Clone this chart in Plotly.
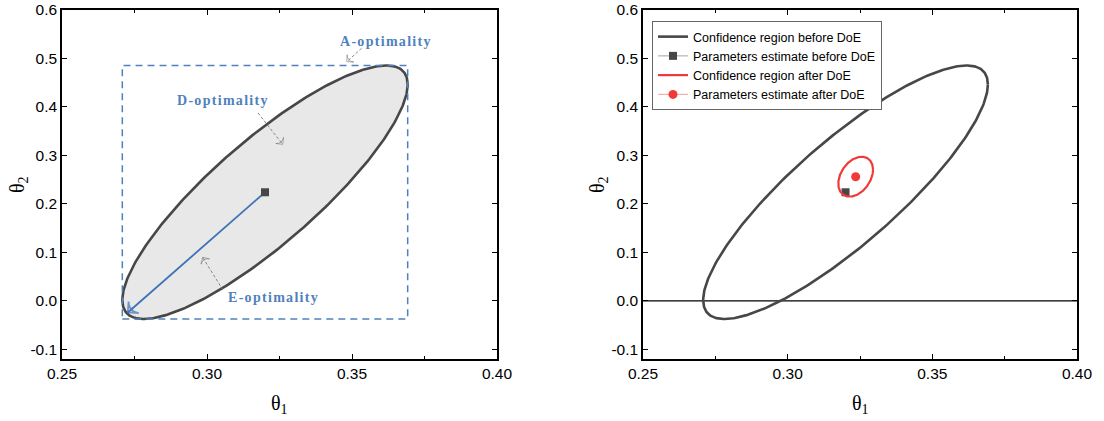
import numpy as np
import plotly.graph_objects as go

# ---------------- data ----------------
# confidence region before DoE: centre, std-devs and correlation
before_center = [0.320, 0.224]
before_sd = [0.0492, 0.2615]
before_rho = 0.85
# confidence region after DoE
after_center = [0.3235, 0.2561]
after_sd = [0.0060, 0.0412]
after_rho = 0.35
# E-optimality (major axis) end point
e_axis_end = [0.2727, -0.024]

x_tickvals = [0.25, 0.30, 0.35, 0.40]
x_ticktext = ["0.25", "0.30", "0.35", "0.40"]
x_minor = [0.275, 0.325, 0.375]
y_tickvals = [-0.1, 0.0, 0.1, 0.2, 0.3, 0.4, 0.5, 0.6]
y_ticktext = ["-0.1", "0.0", "0.1", "0.2", "0.3", "0.4", "0.5", "0.6"]

legend_names = ["Confidence region before DoE", "Parameters estimate before DoE",
                "Confidence region after DoE", "Parameters estimate after DoE"]


def ellipse(center, sd, rho, n=361):
    t = np.linspace(0, 2 * np.pi, n)
    x = center[0] + sd[0] * np.cos(t)
    y = center[1] + sd[1] * (rho * np.cos(t) + np.sqrt(1 - rho ** 2) * np.sin(t))
    return x, y


bx, by = ellipse(before_center, before_sd, before_rho)
ax_, ay_ = ellipse(after_center, after_sd, after_rho)

DARK = "#474747"
RED = "#f03a3a"
BLUE = "#4f81bd"
ABLUE = "#3d72b8"

fig = go.Figure()

# ---------------- left panel ----------------
fig.add_trace(go.Scatter(x=bx, y=by, mode="lines", fill="toself", fillcolor="#e8e8e8",
                         line=dict(color=DARK, width=2.6), showlegend=False,
                         hoverinfo="skip", xaxis="x", yaxis="y"))
# E-optimality arrow (major axis)
fig.add_trace(go.Scatter(x=[before_center[0], e_axis_end[0]],
                         y=[before_center[1], e_axis_end[1]], mode="lines+markers",
                         line=dict(color=ABLUE, width=1.8),
                         marker=dict(symbol=["circle", "arrow-wide-open"], size=[0, 11],
                                     angleref="previous", color=ABLUE,
                                     line=dict(color=ABLUE, width=1.8)),
                         showlegend=False, hoverinfo="skip", xaxis="x", yaxis="y"))
fig.add_trace(go.Scatter(x=[before_center[0]], y=[before_center[1]], mode="markers",
                         marker=dict(symbol="square", size=8, color=DARK),
                         showlegend=False, xaxis="x", yaxis="y"))

# ---------------- right panel ----------------
fig.add_trace(go.Scatter(x=bx, y=by, mode="lines", name=legend_names[0],
                         line=dict(color=DARK, width=2.6), xaxis="x2", yaxis="y2"))
fig.add_trace(go.Scatter(x=[before_center[0]], y=[before_center[1]], mode="lines+markers",
                         name=legend_names[1], line=dict(color="#8c8c8c", width=0.8),
                         marker=dict(symbol="square", size=8, color=DARK),
                         xaxis="x2", yaxis="y2"))
fig.add_trace(go.Scatter(x=ax_, y=ay_, mode="lines", name=legend_names[2],
                         line=dict(color=RED, width=2.2), xaxis="x2", yaxis="y2"))
fig.add_trace(go.Scatter(x=[after_center[0]], y=[after_center[1]], mode="lines+markers",
                         name=legend_names[3], line=dict(color="#f7b0b0", width=1.2),
                         marker=dict(symbol="circle", size=9, color=RED),
                         xaxis="x2", yaxis="y2"))

shapes = []
# A-optimality bounding box (from ellipse extents)
shapes.append(dict(type="rect", xref="x", yref="y",
                   x0=before_center[0] - before_sd[0], x1=before_center[0] + before_sd[0],
                   y0=before_center[1] - before_sd[1], y1=before_center[1] + before_sd[1],
                   line=dict(color=BLUE, width=1.5, dash="7px,5px"), layer="above"))
# zero line on the right
shapes.append(dict(type="line", xref="x2 domain", yref="y2", x0=0, x1=1, y0=0, y1=0,
                   line=dict(color="black", width=1.2), layer="below"))

annotations = []
label_font = dict(family="Liberation Serif", size=14, color=BLUE)


def spaced(s):
    return '<span style="letter-spacing:1.3px"><b>' + s + '</b></span>'


# (text, text position, arrow tail, arrow tip)
callouts = [
    ("A-optimality", (0.3617, 0.536), (0.3533, 0.521), (0.3482, 0.4933)),
    ("D-optimality", (0.3055, 0.4123), (0.3176, 0.3875), (0.3261, 0.3229)),
    ("E-optimality", (0.3231, 0.0073), (0.3055, 0.0223), (0.2985, 0.0898)),
]
for txt, pos, tail, tip in callouts:
    annotations.append(dict(xref="x", yref="y", x=pos[0], y=pos[1], text=spaced(txt),
                            showarrow=False, font=label_font))
    fig.add_trace(go.Scatter(x=[tail[0], tip[0]], y=[tail[1], tip[1]], mode="lines+markers",
                             line=dict(color="#7a7a7a", width=0.9, dash="3px,2px"),
                             marker=dict(symbol=["circle", "arrow-wide-open"], size=[0, 7],
                                         angleref="previous", color="#7a7a7a",
                                         line=dict(color="#7a7a7a", width=0.9)),
                             showlegend=False, hoverinfo="skip", xaxis="x", yaxis="y"))

# axis titles
titlefont = dict(family="Liberation Serif", size=20, color="black")
for xc, yc in [(279.5, 597 - 580 + 0), ]:
    pass
for cx_px in (279.5, 860):
    annotations.append(dict(xref="paper", yref="paper", x=cx_px / 1104, y=(359 - 404) / 349,
                            xanchor="center", yanchor="middle", showarrow=False,
                            text="θ<sub>1</sub>", font=titlefont))
for cy_px in (18, 598):
    annotations.append(dict(xref="paper", yref="paper", x=cy_px / 1104, y=(359 - 185) / 349,
                            xanchor="center", yanchor="middle", showarrow=False,
                            textangle=-90, text="θ<sub>2</sub>", font=titlefont))

tickfont = dict(family="Liberation Sans", size=15.5, color="black")


def xaxis(domain, anchor):
    return dict(domain=domain, anchor=anchor, range=[0.25, 0.40],
                tickmode="array", tickvals=x_tickvals, ticktext=x_ticktext,
                ticks="inside", ticklen=5, tickwidth=1.2, tickcolor="black",
                minor=dict(tickmode="array", tickvals=x_minor, ticks="inside",
                           ticklen=3, tickwidth=1.2, tickcolor="black"),
                showline=True, linecolor="black", linewidth=1.5, mirror="allticks",
                showgrid=False, zeroline=False, tickfont=tickfont, automargin=False)


def yaxis(anchor):
    return dict(domain=[0, 1], anchor=anchor, range=[-0.12, 0.6],
                tickmode="array", tickvals=y_tickvals, ticktext=y_ticktext,
                ticks="inside", ticklen=5, tickwidth=1.2, tickcolor="black",
                showline=True, linecolor="black", linewidth=1.5, mirror="allticks",
                showgrid=False, zeroline=False, tickfont=tickfont, automargin=False)


fig.update_layout(
    width=1104, height=421, template="none",
    margin=dict(l=0, r=0, t=10, b=62),
    paper_bgcolor="white", plot_bgcolor="white",
    xaxis=xaxis([62 / 1104, 497 / 1104], "y"),
    yaxis=yaxis("x"),
    xaxis2=xaxis([643 / 1104, 1077 / 1104], "y2"),
    yaxis2=yaxis("x2"),
    shapes=shapes, annotations=annotations,
    legend=dict(x=652 / 1104, y=1 - 11 / 349, xanchor="left", yanchor="top",
                bgcolor="white", bordercolor="#666666", borderwidth=1,
                font=dict(family="Liberation Sans", size=12.5, color="black"),
                itemwidth=30, tracegroupgap=0),
    showlegend=True,
)

fig.write_html("out.html")
